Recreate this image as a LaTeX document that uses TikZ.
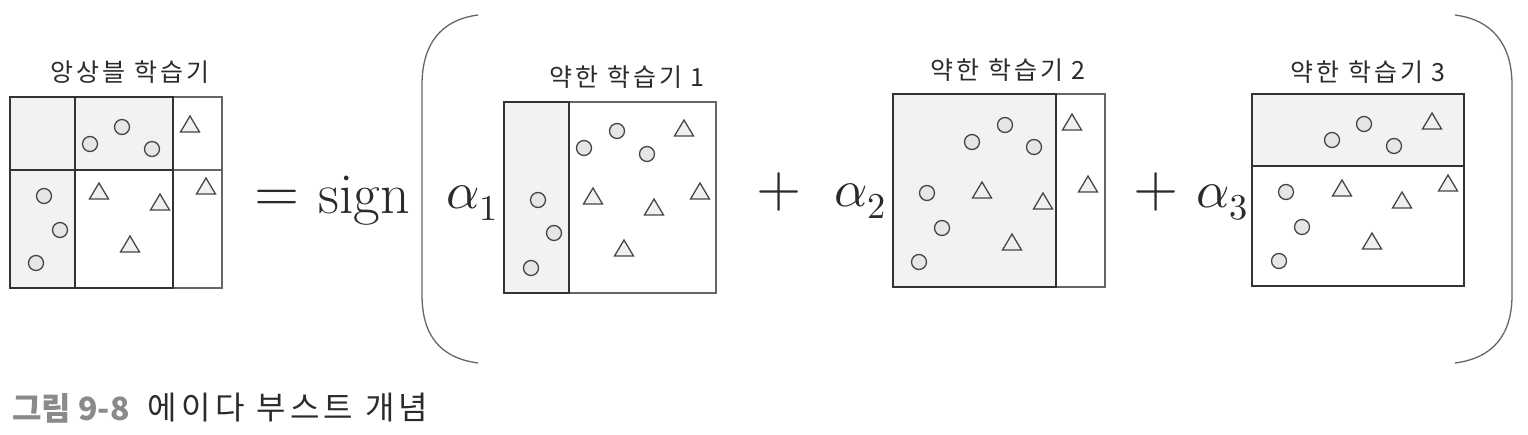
\documentclass[tikz,border=0pt]{standalone}
\usepackage{fontspec}
\usepackage{unicode-math}
\setmathfont{Latin Modern Math}
\newfontfamily\kr[LetterSpace=12]{Noto Sans CJK KR}
\newfontfamily\krplain{Noto Sans CJK KR}
\newfontfamily\krcap[LetterSpace=14]{Noto Sans CJK KR}
\definecolor{dk}{HTML}{333333}
\definecolor{md}{HTML}{666666}
\definecolor{shadecol}{HTML}{F2F2F2}
\definecolor{cfill}{HTML}{E6E6E6}
\definecolor{tfill}{HTML}{F0F0F0}
\definecolor{capgray}{HTML}{8A8A8A}
\definecolor{txt}{HTML}{2B2B2B}
\tikzset{
  darkline/.style={draw=dk, line width=2.2pt},
  grayline/.style={draw=md, line width=1.5pt},
  circst/.style={draw=dk!90, fill=cfill, line width=1.3pt},
  trist/.style={draw=dk!90, fill=tfill, line width=1.3pt, line join=miter},
  lbl/.style={inner sep=0pt, text=txt, font=\kr\fontsize{25}{28}\selectfont},
  mathlbl/.style={inner sep=0pt, text=txt, font=\fontsize{58}{64}\selectfont},
  alphalbl/.style={inner sep=0pt, text=txt, font=\fontsize{52}{60}\selectfont},
  paren/.style={draw=md, line width=1.3pt},
}
\begin{document}
\begin{tikzpicture}[x=1pt,y=-1pt]
\useasboundingbox (0,0) rectangle (1528,434);
% ---------- ensemble learner ----------
\fill[shadecol] (10,97) rectangle (173,170);
\fill[shadecol] (10,170) rectangle (75,288);
\draw[grayline] (173,97) rectangle (222,288);
\draw[grayline] (173,170) -- (222,170);
\draw[darkline] (10,97) rectangle (173,288);
\draw[darkline] (75,97) -- (75,288);
\draw[darkline] (10,170) -- (173,170);
\foreach \p in {(122,127),(90,144),(152,149),(44,196),(60,230),(36,263)}
  \draw[circst] \p circle[radius=7.5pt];
\foreach \x/\y in {190/125,206/187,99/192,160/203,130/245}
  \draw[trist] (\x,\y-9) -- (\x+9.5,\y+7) -- (\x-9.5,\y+7) -- cycle;
\node[lbl] (ens) at (130,72) {앙상블 학습기};
% ---------- equation ----------
\node[mathlbl] (eq) at (277,201) {$=$};
\node[mathlbl, anchor=base west] (sign) at (318,213) {sign};
% parentheses
\draw[paren] (478,15) .. controls (440,20) and (422,45) .. (422,85) -- (422,295) .. controls (422,335) and (440,358) .. (478,363);
\draw[paren] (1455,15) .. controls (1493,20) and (1512,45) .. (1512,85) -- (1512,295) .. controls (1512,335) and (1493,358) .. (1455,363);
% ---------- weak learner 1 ----------
\fill[shadecol] (504,102) rectangle (569,293);
\draw[grayline] (569,102) rectangle (716,293);
\draw[darkline] (504,102) rectangle (569,293);
\foreach \p in {(538,200),(554,233),(531,268),(617,131),(584,148),(647,154)}
  \draw[circst] \p circle[radius=7.5pt];
\foreach \x/\y in {684/129,593/197,700/192,654/208,624/249}
  \draw[trist] (\x,\y-9) -- (\x+9.5,\y+7) -- (\x-9.5,\y+7) -- cycle;
\node[lbl] (w1) at (627,77) {약한 학습기 1};
\node[alphalbl, anchor=base west] (a1) at (446,208) {$\alpha_1$};
\node[mathlbl] (p1) at (779,192) {$+$};
% ---------- weak learner 2 ----------
\fill[shadecol] (893,94) rectangle (1056,287);
\draw[grayline] (1056,94) rectangle (1105,287);
\draw[darkline] (893,94) rectangle (1056,287);
\foreach \p in {(1005,125),(972,142),(1034,147),(927,193),(942,228),(919,262)}
  \draw[circst] \p circle[radius=7.5pt];
\foreach \x/\y in {1072/123,1088/185,982/191,1043/202,1012/243}
  \draw[trist] (\x,\y-9) -- (\x+9.5,\y+7) -- (\x-9.5,\y+7) -- cycle;
\node[lbl] (w2) at (1008,70) {약한 학습기 2};
\node[alphalbl, anchor=base west] (a2) at (834,206) {$\alpha_2$};
\node[mathlbl] (p2) at (1156,192) {$+$};
% ---------- weak learner 3 ----------
\fill[shadecol] (1252,94) rectangle (1464,166);
\draw[darkline] (1252,94) rectangle (1464,286);
\draw[darkline] (1252,166) -- (1464,166);
\foreach \p in {(1364,124),(1332,140),(1394,146),(1286,192),(1302,227),(1279,261)}
  \draw[circst] \p circle[radius=7.5pt];
\foreach \x/\y in {1432/122,1448/184,1342/189,1402/201,1372/242}
  \draw[trist] (\x,\y-9) -- (\x+9.5,\y+7) -- (\x-9.5,\y+7) -- cycle;
\node[lbl] (w3) at (1368,72) {약한 학습기 3};
\node[alphalbl, anchor=base west] (a3) at (1196,207) {$\alpha_3$};
% ---------- caption ----------
\node[inner sep=0pt, anchor=west, text=capgray, font=\krplain\bfseries\fontsize{32}{36}\selectfont] (capnum) at (12,408) {그림 9-8};
\node[inner sep=0pt, anchor=west, text=txt, font=\krcap\fontsize{32}{36}\selectfont] (captxt) at (147,408) {에이다 부스트 개념};
\end{tikzpicture}
\end{document}
